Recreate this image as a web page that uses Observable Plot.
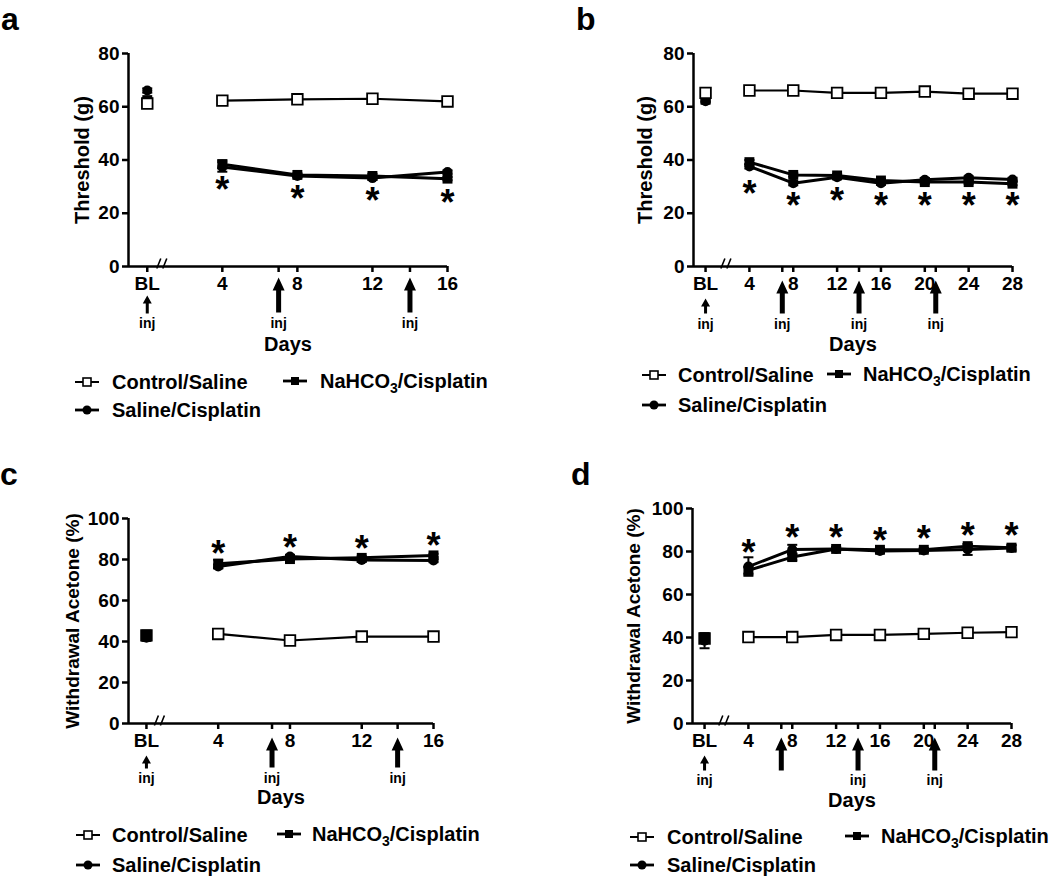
<!DOCTYPE html>
<html><head><meta charset="utf-8">
<script src="https://cdn.jsdelivr.net/npm/d3@7"></script>
<script src="https://cdn.jsdelivr.net/npm/@observablehq/plot@0.6"></script>
<style>
body{margin:0;background:#fff;font-family:"Liberation Sans",Arial,sans-serif;font-weight:bold;color:#000;}
#root{position:relative;width:1050px;height:880px;overflow:hidden;}
.panel{position:absolute;}
.letter{position:absolute;font-size:32px;font-weight:bold;line-height:1.15;}
.leg{position:absolute;height:24px;line-height:24px;font-size:20px;white-space:nowrap;}
.leg .sub{font-size:14px;position:relative;top:5px;}
</style></head><body><div id="root"></div>
<script>
// ---------- data ----------
const daysShort = [0, 4, 8, 12, 16];
const daysLong = [0, 4, 8, 12, 16, 20, 24, 28];
const ticksShort = [0, 4, 7, 8, 12, 14, 16];
const tickLabelsShort = ["BL", "4", "", "8", "12", "", "16"];
const ticksLong = [0, 4, 7, 8, 12, 14, 16, 20, 21, 24, 28];
const tickLabelsLong = ["BL", "4", "", "8", "12", "", "16", "20", "", "24", "28"];
const seriesNames = ["Control/Saline", "Saline/Cisplatin", "NaHCO3/Cisplatin"];

// panel a : Threshold (g), 16 days
const ctrlA = [61.2, 62.3, 62.8, 63.0, 62.0];
const salA  = [66.1, 37.4, 34.0, 33.2, 35.5];
const nahA  = [62.5, 38.4, 34.4, 34.0, 33.0];
const errCtrlA = [0.6, 0.5, 0.5, 0.5, 0.5];
const errSalA  = [0.8, 1.8, 0.6, 0.6, 0.6];
const errNahA  = [0.8, 1.5, 0.6, 0.8, 0.6];
const starsA = [30.7, 27.3, 26.7, 26.1];
const injA = [0, 7, 14];
const injLabelA = ["inj", "inj", "inj"];

// panel b : Threshold (g), 28 days
const ctrlB = [65.2, 66.1, 66.1, 65.2, 65.2, 65.7, 64.9, 64.9];
const salB  = [62.1, 37.6, 31.3, 33.5, 31.3, 32.6, 33.3, 32.7];
const nahB  = [62.6, 39.2, 34.4, 34.2, 32.3, 31.7, 31.7, 31.1];
const errCtrlB = [0.5, 0.5, 0.5, 0.5, 0.5, 0.5, 0.5, 0.5];
const errSalB  = [0.6, 0.8, 0.8, 0.6, 0.6, 0.6, 0.6, 0.6];
const errNahB  = [0.6, 0.8, 0.6, 0.6, 0.6, 0.6, 0.6, 0.6];
const starsB = [29.2, 24.8, 26.7, 24.8, 24.9, 24.8, 24.8];
const injB = [0, 7, 14, 21];
const injLabelB = ["inj", "inj", "inj", "inj"];

// panel c : Withdrawal Acetone (%), 16 days
const ctrlC = [43.0, 43.7, 40.5, 42.4, 42.4];
const salC  = [41.8, 76.6, 81.5, 79.8, 79.5];
const nahC  = [43.4, 77.9, 80.2, 80.8, 82.0];
const errCtrlC = [0.8, 0.6, 0.6, 0.6, 0.6];
const errSalC  = [1.5, 1.0, 0.8, 0.8, 0.8];
const errNahC  = [1.5, 2.0, 0.8, 0.8, 0.8];
const starsC = [85.4, 88.3, 87.8, 89.3];
const injC = [0, 7, 14];
const injLabelC = ["inj", "inj", "inj"];

// panel d : Withdrawal Acetone (%), 28 days
const ctrlD = [39.5, 40.2, 40.2, 41.2, 41.2, 41.7, 42.2, 42.5];
const salD  = [38.5, 73.0, 80.9, 81.2, 80.2, 80.5, 80.9, 81.6];
const nahD  = [40.0, 71.2, 77.4, 81.2, 80.8, 80.8, 82.5, 81.8];
const errCtrlD = [1.0, 0.6, 0.6, 0.6, 0.6, 0.6, 0.6, 0.6];
const errSalD  = [3.5, 4.3, 2.2, 0.8, 0.8, 0.8, 2.5, 1.5];
const errNahD  = [1.5, 1.5, 1.5, 0.8, 0.8, 0.8, 1.0, 1.0];
const starsD = [82.0, 89.0, 89.0, 87.4, 88.2, 89.8, 89.8];
const injD = [0, 7, 14, 21];
const injLabelD = ["inj", "", "inj", "inj"];

// ---------- layout ----------
const panels = [
  {letter: "a", lx: 1, ly: 1, left: 0, top: 0, width: 525, height: 360, ml: 128, mr: 78, mt: 53, mb: 94,
   xdom: [-1, 16], ymax: 80, days: daysShort, ticks: ticksShort, tickLabels: tickLabelsShort,
   ctrl: ctrlA, sal: salA, nah: nahA, errCtrl: errCtrlA, errSal: errSalA, errNah: errNahA, stars: starsA,
   inj: injA, injLabel: injLabelA, ylabel: "Threshold (g)", ylDx: -46, ylSize: 20, breakX: 0.8, ctrlOnTop: true,
   big: {tip: 11, L: 35}, small: {tip: 29, L: 18}, injDy: 57, daysDy: 84,
   leg: {r1: 382, r2: 410, s1: 75, t1: 112, s2: 283, t2: 320}},
  {letter: "b", lx: 576, ly: 1, left: 525, top: 0, width: 525, height: 360, ml: 168, mr: 38, mt: 53, mb: 94,
   xdom: [-1.1, 28], ymax: 80, days: daysLong, ticks: ticksLong, tickLabels: tickLabelsLong,
   ctrl: ctrlB, sal: salB, nah: nahB, errCtrl: errCtrlB, errSal: errSalB, errNah: errNahB, stars: starsB,
   inj: injB, injLabel: injLabelB, ylabel: "Threshold (g)", ylDx: -48, ylSize: 20, breakX: 1.9, ctrlOnTop: true,
   big: {tip: 14, L: 33}, small: {tip: 32, L: 15}, injDy: 58, daysDy: 84,
   leg: {r1: 375, r2: 405, s1: 642, t1: 678, s2: 827, t2: 863}},
  {letter: "c", lx: 0, ly: 456, left: 0, top: 440, width: 525, height: 375, ml: 128, mr: 92, mt: 78, mb: 92,
   xdom: [-1, 16], ymax: 100, days: daysShort, ticks: ticksShort, tickLabels: tickLabelsShort,
   ctrl: ctrlC, sal: salC, nah: nahC, errCtrl: errCtrlC, errSal: errSalC, errNah: errNahC, stars: starsC,
   inj: injC, injLabel: injLabelC, ylabel: "Withdrawal Acetone (%)", ylDx: -56, ylSize: 19, breakX: 0.75, ctrlOnTop: false,
   big: {tip: 14, L: 30}, small: {tip: 32, L: 13}, injDy: 55, daysDy: 80,
   leg: {r1: 835, r2: 865, s1: 76, t1: 112, s2: 277, t2: 312}},
  {letter: "d", lx: 571, ly: 456, left: 525, top: 440, width: 525, height: 375, ml: 167, mr: 39, mt: 68, mb: 92,
   xdom: [-1.1, 28], ymax: 100, days: daysLong, ticks: ticksLong, tickLabels: tickLabelsLong,
   ctrl: ctrlD, sal: salD, nah: nahD, errCtrl: errCtrlD, errSal: errSalD, errNah: errNahD, stars: starsD,
   inj: injD, injLabel: injLabelD, ylabel: "Withdrawal Acetone (%)", ylDx: -59, ylSize: 19, breakX: 1.8, ctrlOnTop: false,
   big: {tip: 14, L: 33}, small: {tip: 32, L: 15}, injDy: 57, daysDy: 83,
   leg: {r1: 837, r2: 865, s1: 630, t1: 667, s2: 845, t2: 881}}
];

// ---------- custom symbols ----------
function arrowSym(L, hw, hh, sw) {
  return {draw(ctx) {
    ctx.moveTo(0, 0); ctx.lineTo(hw / 2, hh); ctx.lineTo(sw / 2, hh); ctx.lineTo(sw / 2, L);
    ctx.lineTo(-sw / 2, L); ctx.lineTo(-sw / 2, hh); ctx.lineTo(-hw / 2, hh); ctx.closePath();
  }};
}
const capSym = {draw(ctx) { ctx.moveTo(-5, 0); ctx.lineTo(5, 0); }};
const breakSym = {draw(ctx) { ctx.moveTo(-5.5, 5); ctx.lineTo(-1.5, -5); ctx.moveTo(0.5, 5); ctx.lineTo(4.5, -5); }};

const root = document.getElementById("root");
const FONT = "Liberation Sans, Arial, sans-serif";

function buildRows(p) {
  const out = [];
  const ser = [[seriesNames[0], p.ctrl, p.errCtrl], [seriesNames[1], p.sal, p.errSal], [seriesNames[2], p.nah, p.errNah]];
  for (const [name, vals, errs] of ser) p.days.forEach((d, i) => out.push({series: name, day: d, value: vals[i], err: errs[i]}));
  return out;
}

for (const p of panels) {
  const rows = buildRows(p);
  const of = (s) => rows.filter(d => d.series === s);
  const starRows = p.stars.map((v, i) => ({day: p.days[i + 1], y: v}));
  const injRows = p.inj.map((d, i) => ({day: d, label: p.injLabel[i], big: d !== 0}));
  const B = p.big, S = p.small;
  const ctrlDots = Plot.dot(of(seriesNames[0]), {x: "day", y: "value", symbol: "square", r: 6, fill: "#fff", stroke: "#000", strokeWidth: 1.8});
  const filledDots = [
    Plot.dot(of(seriesNames[2]), {x: "day", y: "value", symbol: "square", r: 5.6, fill: "#000", stroke: "none"}),
    Plot.dot(of(seriesNames[1]), {x: "day", y: "value", symbol: "circle", r: 5, fill: "#000", stroke: "none"})
  ];
  const dotMarks = p.ctrlOnTop ? [...filledDots, ctrlDots] : [ctrlDots, ...filledDots];
  const chart = Plot.plot({
    width: p.width, height: p.height,
    marginLeft: p.ml, marginRight: p.mr, marginTop: p.mt, marginBottom: p.mb,
    x: {domain: p.xdom}, y: {domain: [0, p.ymax]},
    style: {fontFamily: FONT, fontWeight: "bold", background: "transparent", color: "#000", overflow: "visible"},
    marks: [
      Plot.ruleY([0], {x1: p.xdom[0], x2: p.xdom[1], strokeWidth: 2.5}),
      Plot.ruleX([p.xdom[0]], {y1: 0, y2: p.ymax, strokeWidth: 2.5}),
      Plot.axisY({ticks: d3.range(0, p.ymax + 1, 20), tickSize: 6, tickPadding: 3, strokeWidth: 2.5, fontSize: 19, fontWeight: "bold", label: null}),
      Plot.axisX({ticks: p.ticks, tickFormat: (d) => p.tickLabels[p.ticks.indexOf(d)], tickSize: 6, tickPadding: 4, strokeWidth: 2.5, fontSize: 19, fontWeight: "bold", label: null}),
      Plot.dot([p.breakX], {x: d => d, y: () => 0, symbol: breakSym, r: 1, stroke: "#000", fill: "none", strokeWidth: 1.6, dy: -3}),
      // error bars
      Plot.ruleX(rows, {x: "day", y1: d => d.value - d.err, y2: d => d.value + d.err, strokeWidth: 2}),
      Plot.dot(rows, {x: "day", y: d => d.value + d.err, symbol: capSym, r: 1, stroke: "#000", fill: "none", strokeWidth: 2}),
      Plot.dot(rows, {x: "day", y: d => d.value - d.err, symbol: capSym, r: 1, stroke: "#000", fill: "none", strokeWidth: 2}),
      // lines (baseline point not connected)
      Plot.line(of(seriesNames[2]).filter(d => d.day > 0), {x: "day", y: "value", stroke: "#000", strokeWidth: 3}),
      Plot.line(of(seriesNames[1]).filter(d => d.day > 0), {x: "day", y: "value", stroke: "#000", strokeWidth: 3}),
      Plot.line(of(seriesNames[0]).filter(d => d.day > 0), {x: "day", y: "value", stroke: "#000", strokeWidth: 2.2}),
      // markers
      ...dotMarks,
      // significance stars
      Plot.text(starRows, {x: "day", y: "y", text: () => "*", fontSize: 36, fontWeight: "bold", dy: 6}),
      // injection arrows
      Plot.dot(injRows.filter(d => d.big), {x: "day", y: () => 0, symbol: arrowSym(B.L, 12, 13, 5), r: 1, fill: "#000", stroke: "none", dy: B.tip}),
      Plot.dot(injRows.filter(d => !d.big), {x: "day", y: () => 0, symbol: arrowSym(S.L, 9, 8, 3), r: 1, fill: "#000", stroke: "none", dy: S.tip}),
      Plot.text(injRows.filter(d => d.label), {x: "day", y: () => 0, text: "label", fontSize: 14, fontWeight: "bold", dy: p.injDy}),
      // axis titles
      Plot.text(["Days"], {frameAnchor: "bottom", text: d => d, dy: p.daysDy, fontSize: 20, fontWeight: "bold"}),
      Plot.text([p.ylabel], {frameAnchor: "left", textAnchor: "middle", text: d => d, rotate: -90, dx: p.ylDx, fontSize: p.ylSize, fontWeight: "bold"})
    ]
  });
  const wrap = document.createElement("div");
  wrap.className = "panel";
  wrap.style.left = p.left + "px"; wrap.style.top = p.top + "px";
  wrap.appendChild(chart);
  root.appendChild(wrap);

  const letter = document.createElement("div");
  letter.className = "letter";
  letter.textContent = p.letter;
  letter.style.left = p.lx + "px"; letter.style.top = p.ly + "px";
  root.appendChild(letter);

  // legend
  const L = p.leg;
  const items = [
    {s: L.s1, t: L.t1, cy: L.r1, kind: 0, html: "Control/Saline"},
    {s: L.s2, t: L.t2, cy: L.r1 - 1, kind: 2, html: "NaHCO<span class=\"sub\">3</span>/Cisplatin"},
    {s: L.s1, t: L.t1, cy: L.r2, kind: 1, html: "Saline/Cisplatin"}
  ];
  for (const it of items) {
    const sw = document.createElementNS("http://www.w3.org/2000/svg", "svg");
    sw.setAttribute("width", 24); sw.setAttribute("height", 14);
    sw.style.position = "absolute"; sw.style.left = it.s + "px"; sw.style.top = (it.cy - 7) + "px";
    let m;
    if (it.kind === 0) m = `<rect x="8" y="3" width="8" height="8" fill="#fff" stroke="#000" stroke-width="1.6"/>`;
    else if (it.kind === 1) m = `<circle cx="12" cy="7" r="4.5" fill="#000"/>`;
    else m = `<rect x="8" y="3" width="8" height="8" fill="#000"/>`;
    sw.innerHTML = `<line x1="0" x2="24" y1="7" y2="7" stroke="#000" stroke-width="${it.kind === 0 ? 2 : 2.8}"/>` + m;
    root.appendChild(sw);
    const t = document.createElement("div");
    t.className = "leg";
    t.innerHTML = it.html;
    t.style.left = it.t + "px"; t.style.top = (it.cy - 12) + "px";
    root.appendChild(t);
  }
}
</script></body></html>
